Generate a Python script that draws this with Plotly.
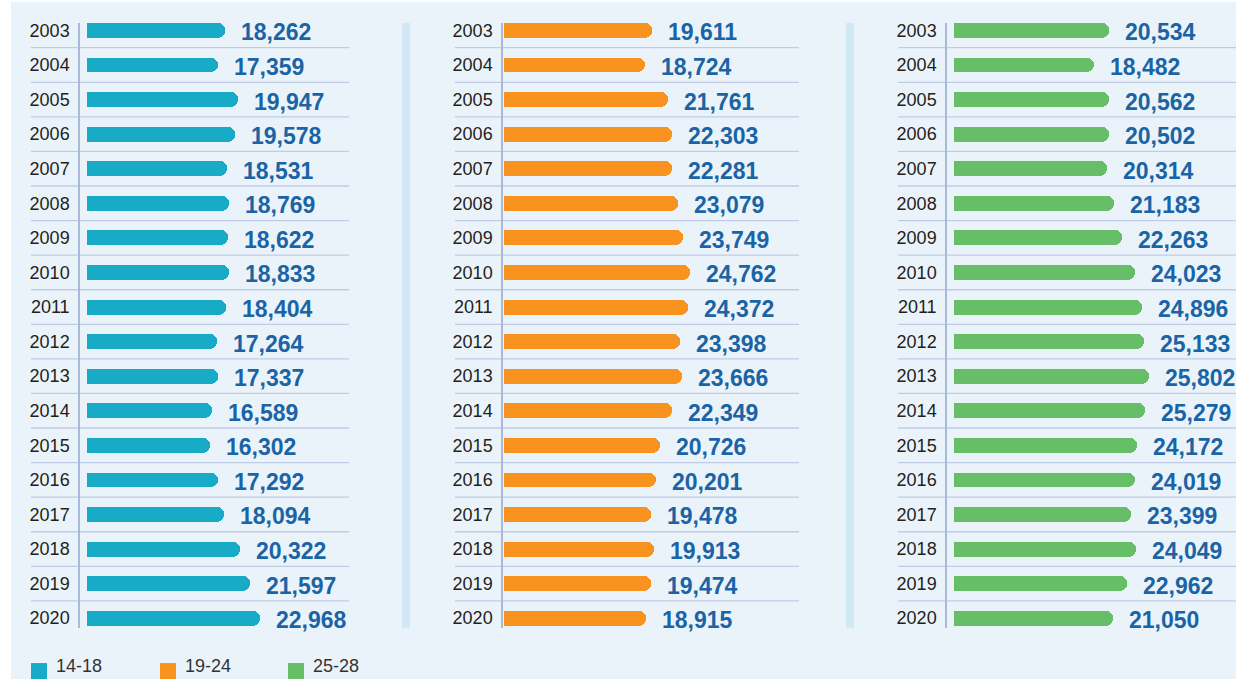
import plotly.graph_objects as go

# Yearly counts by age group
years = list(range(2003, 2021))
group_names = ["14-18", "19-24", "25-28"]
values_14_18 = [18262, 17359, 19947, 19578, 18531, 18769, 18622, 18833, 18404,
                17264, 17337, 16589, 16302, 17292, 18094, 20322, 21597, 22968]
values_19_24 = [19611, 18724, 21761, 22303, 22281, 23079, 23749, 24762, 24372,
                23398, 23666, 22349, 20726, 20201, 19478, 19913, 19474, 18915]
values_25_28 = [20534, 18482, 20562, 20502, 20314, 21183, 22263, 24023, 24896,
                25133, 25802, 25279, 24172, 24019, 23399, 24049, 22962, 21050]
colors = ["#17abc8", "#f7931e", "#66bf66"]

W, H = 1236, 679
K = 0.00755  # pixels per person along the bar axis

def fx(px):
    return px / W

def fy(px):
    return 1 - px / H

FONT = "Liberation Sans, Arial, sans-serif"
VALUE_COLOR = "#1a64a6"
GRID_COLOR = "#c0cce6"
AXIS_COLOR = "#a9b9da"

# panel geometry: axis line x, bar baseline x, right edge, gridline span
panels = [
    dict(vals=values_14_18, axis=80, base=87, right=380, grid=(31, 349)),
    dict(vals=values_19_24, axis=503, base=503.5, right=830, grid=(455, 799)),
    dict(vals=values_25_28, axis=947, base=954, right=1236, grid=(898, 1236)),
]

y_top_px, y_bot_px = 21, 628
row0_px, row_last_px = 28.5, 618
pitch = (row_last_px - row0_px) / (len(years) - 1)
y_range = [years[-1] + (y_bot_px - row_last_px) / pitch,
           years[0] - (row0_px - y_top_px) / pitch]

fig = go.Figure()
shapes = []
annotations = []

# page panel background
shapes.append(dict(type="rect", xref="paper", yref="paper", x0=fx(11), x1=1,
                   y0=0, y1=1, fillcolor="#ebf3fa", line=dict(width=0), layer="below"))

# separator bands between panels
for x0, x1 in [(402, 410), (846, 854)]:
    shapes.append(dict(type="rect", xref="paper", yref="paper", x0=fx(x0), x1=fx(x1),
                       y0=fy(y_bot_px), y1=fy(y_top_px), fillcolor="#d3e8f5",
                       line=dict(width=0), layer="below"))

for i, (p, name, col) in enumerate(zip(panels, group_names, colors)):
    n = "" if i == 0 else str(i + 1)
    xa, ya = "x" + n, "y" + n
    fig.add_trace(go.Bar(
        x=p["vals"], y=years, orientation="h", name=name,
        xaxis=xa, yaxis=ya, width=0.43,
        marker=dict(color=col, line=dict(width=0), cornerradius="50%"),
        hoverinfo="skip", showlegend=False,
    ))
    fig.update_layout(**{
        "xaxis" + n: dict(domain=[fx(p["axis"]), fx(p["right"])],
                          range=[-(p["base"] - p["axis"]) / K, (p["right"] - p["base"]) / K],
                          visible=False, anchor=ya, fixedrange=True),
        "yaxis" + n: dict(domain=[fy(y_bot_px), fy(y_top_px)], range=y_range,
                          anchor=xa, tickmode="array", tickvals=years,
                          ticktext=[str(y) for y in years], ticks="",
                          showline=True, linecolor=AXIS_COLOR, linewidth=1.5,
                          showgrid=False, zeroline=False, ticklabelstandoff=5,
                          tickfont=dict(family=FONT, size=18, color="#231f20"),
                          fixedrange=True),
    })
    # row separators
    for yr in years[:-1]:
        shapes.append(dict(type="line", xref="paper", yref=ya,
                           x0=fx(p["grid"][0]), x1=fx(p["grid"][1]),
                           y0=yr + 0.5, y1=yr + 0.5,
                           line=dict(color=GRID_COLOR, width=1.3), layer="below"))
    # value labels
    for yr, v in zip(years, p["vals"]):
        annotations.append(dict(x=v, y=yr, xref=xa, yref=ya, text=f"{v:,}",
                                showarrow=False, xanchor="left", yanchor="middle",
                                xshift=14, yshift=-2,
                                font=dict(family=FONT, size=23, color=VALUE_COLOR,
                                          weight=700)))

# legend
for lx, name, col in zip([31, 160, 288], group_names, colors):
    shapes.append(dict(type="rect", xref="paper", yref="paper",
                       x0=fx(lx), x1=fx(lx + 16), y0=fy(685), y1=fy(663),
                       fillcolor=col, line=dict(width=0)))
    annotations.append(dict(x=fx(lx + 23), y=fy(666), xref="paper", yref="paper",
                            text=name, showarrow=False, xanchor="left", yanchor="middle",
                            font=dict(family=FONT, size=18, color="#333333")))

fig.update_layout(
    width=W, height=H, margin=dict(l=0, r=0, t=0, b=0),
    paper_bgcolor="white", plot_bgcolor="rgba(0,0,0,0)",
    shapes=shapes, annotations=annotations, showlegend=False, bargap=0,
)

fig.write_html("out.html")
